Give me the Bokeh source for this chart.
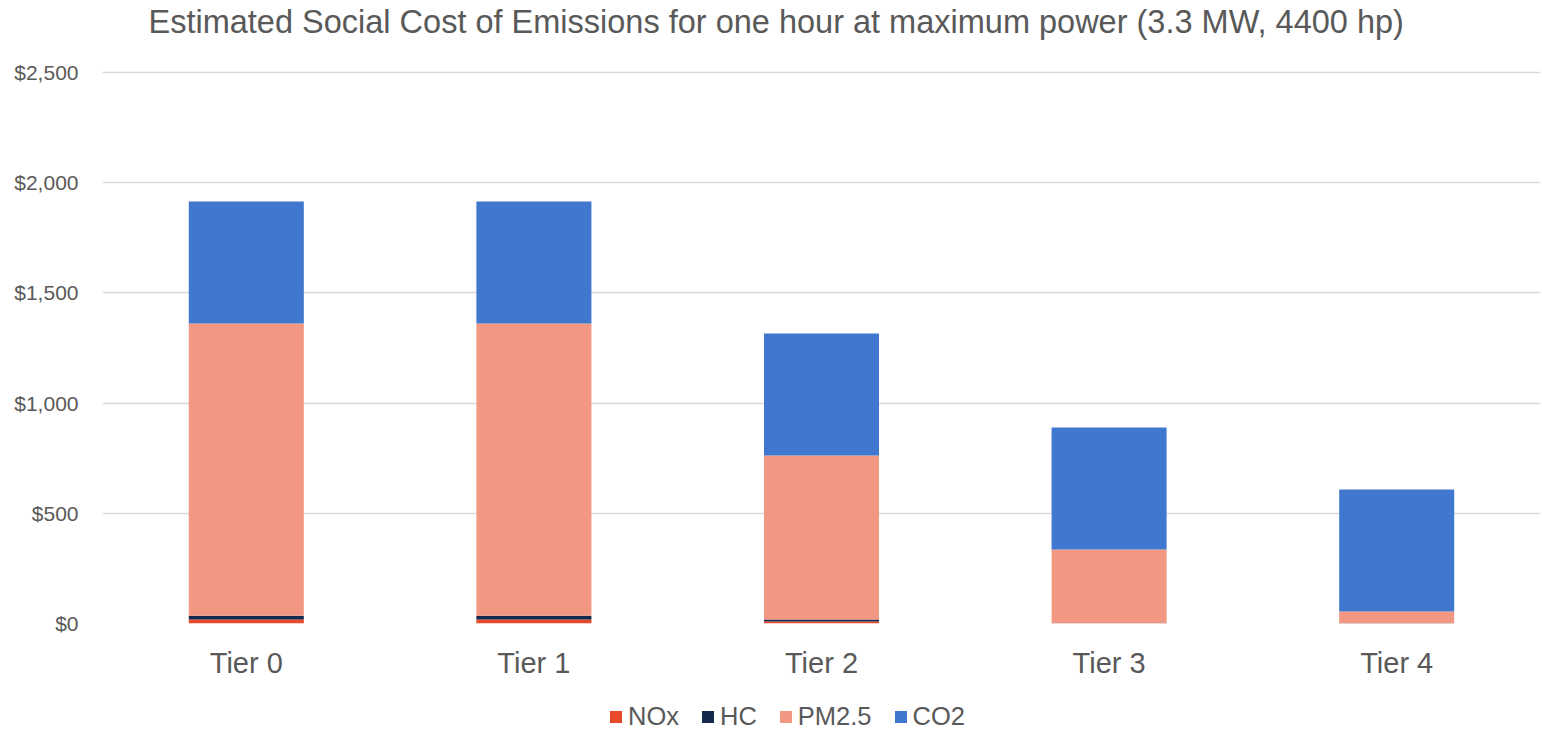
from bokeh.plotting import figure
from bokeh.layouts import column
from bokeh.models import (ColumnDataSource, FactorRange, Range1d, FixedTicker,
                          NumeralTickFormatter, Legend, LegendItem, Label)
from bokeh.embed import file_html
from bokeh.resources import INLINE

# ---- data ----
tiers = ["Tier 0", "Tier 1", "Tier 2", "Tier 3", "Tier 4"]
nox = [18, 18, 9, 3, 1]
hc = [17, 17, 9, 1, 1]
pm25 = [1326, 1326, 744, 332, 52]
co2 = [554, 554, 554, 553, 554]
series_names = ["NOx", "HC", "PM2.5", "CO2"]
series_colors = ["#E8492A", "#14294C", "#F29882", "#4178CF"]
y_ticks = [0, 500, 1000, 1500, 2000, 2500]
title_text = "Estimated Social Cost of Emissions for one hour at maximum power (3.3 MW, 4400 hp)"

FONT = "Liberation Sans"
TXT = "#595959"
stack_keys = ["NOx", "HC", "PM25", "CO2"]

source = ColumnDataSource(data=dict(tier=tiers, NOx=nox, HC=hc, PM25=pm25, CO2=co2))

# main chart: the frame reaches the top of the canvas, the title sits in the
# empty band above the $2,500 gridline
FRAME_H = 623
Y_END = 2500 * FRAME_H / 551.0

p = figure(width=1542, height=700, output_backend="svg", toolbar_location=None,
           x_range=FactorRange(factors=tiers), y_range=Range1d(0, Y_END),
           min_border_left=102, min_border_right=2, min_border_top=0,
           min_border_bottom=700 - FRAME_H)
p.outline_line_color = None

p.vbar_stack(stack_keys, x="tier", width=0.4, color=series_colors,
             line_width=0, source=source)

p.add_layout(Label(x=46, y=FRAME_H - 21, x_units="screen", y_units="screen",
                   text=title_text, text_font=FONT, text_font_size="32.5px",
                   text_color=TXT, text_align="left", text_baseline="alphabetic"))

# y axis
p.yaxis.ticker = FixedTicker(ticks=y_ticks)
p.yaxis.formatter = NumeralTickFormatter(format="$0,0")
p.yaxis.major_label_text_font = FONT
p.yaxis.major_label_text_font_size = "21px"
p.yaxis.major_label_text_color = TXT
p.yaxis.major_label_standoff = 18
p.yaxis.axis_line_color = None
p.yaxis.major_tick_line_color = None
p.yaxis.minor_tick_line_color = None

# x axis
p.xaxis.major_label_text_font = FONT
p.xaxis.major_label_text_font_size = "29px"
p.xaxis.major_label_text_color = TXT
p.xaxis.major_label_standoff = 17
p.xaxis.axis_line_color = None
p.xaxis.major_tick_line_color = None
p.xaxis.minor_tick_line_color = None

# grid
p.xgrid.grid_line_color = None
p.ygrid.ticker = FixedTicker(ticks=y_ticks)
p.ygrid.grid_line_color = "#D9D9D9"
p.ygrid.grid_line_width = 1.5

# legend strip under the chart (its bars are out of view; only the legend shows)
pl = figure(width=1542, height=31, output_backend="svg", toolbar_location=None,
            x_range=FactorRange(factors=tiers), y_range=Range1d(5000, 5001),
            x_axis_location=None, y_axis_location=None,
            min_border_left=0, min_border_right=0, min_border_top=0, min_border_bottom=0)
pl.outline_line_color = None
pl.grid.visible = False
leg_renderers = pl.vbar_stack(stack_keys, x="tier", width=0.4, color=series_colors,
                              line_width=0, source=source)
items = [LegendItem(label=n, renderers=[r]) for n, r in zip(series_names, leg_renderers)]
legend = Legend(items=items, orientation="horizontal", location=(506, 0),
                label_text_font=FONT, label_text_font_size="25.5px", label_text_color=TXT,
                glyph_width=15, glyph_height=15, label_standoff=5, spacing=21,
                padding=0, margin=0, border_line_color=None, background_fill_alpha=0)
pl.add_layout(legend, "center")

layout = column(p, pl, spacing=0)
open("out.html", "w").write(file_html(layout, INLINE))
